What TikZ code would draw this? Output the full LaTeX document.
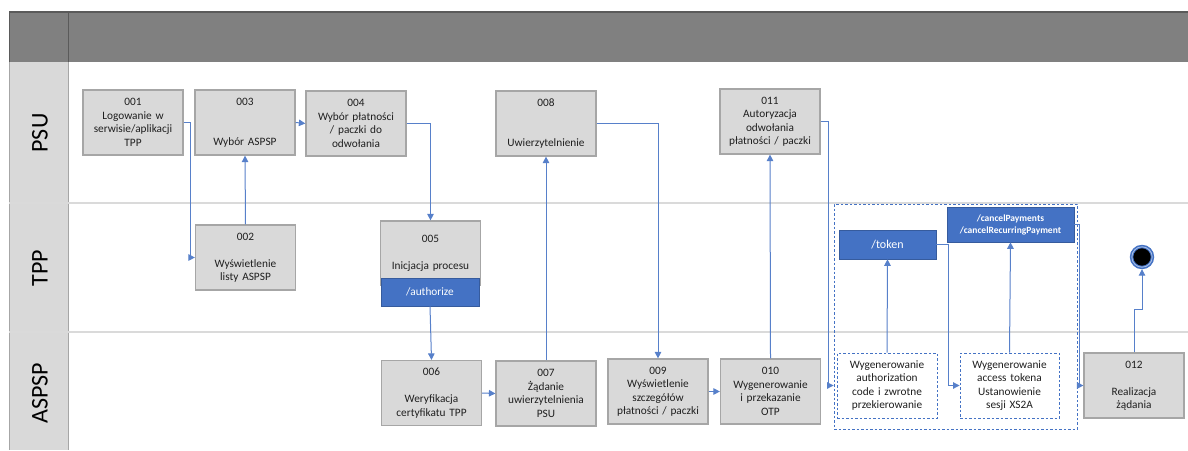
\documentclass[tikz,border=0pt]{standalone}
\usepackage{fontspec}
\setmainfont{Carlito}
\usetikzlibrary{arrows.meta}
\definecolor{boxfill}{HTML}{D9D9D9}
\definecolor{boxline}{HTML}{A6A6A6}
\definecolor{flow}{HTML}{4472C4}
\definecolor{hdr}{HTML}{808080}
\definecolor{hdrline}{HTML}{5A5A5A}
\definecolor{lane}{HTML}{DADADA}
\definecolor{txt}{HTML}{1F1F1F}
\begin{document}
\begin{tikzpicture}[x=1pt,y=-1pt,
  stepbox/.style={draw=boxline, line width=1.2pt, fill=boxfill,
    minimum width=100pt, minimum height=65pt, inner sep=0pt,
    align=center, text width=98pt, text=txt,
    font=\fontsize{11.3}{13.5}\selectfont},
  dashbox/.style={draw=flow, dashed, dash pattern=on 2.5pt off 2pt,
    line width=0.9pt, fill=white, minimum width=100pt, minimum height=65pt,
    inner sep=0pt, align=center, text width=98pt, text=txt,
    font=\fontsize{11.3}{13.5}\selectfont},
  apibox/.style={draw=flow!80!black, line width=0.6pt, fill=flow, text=white,
    inner sep=0pt, align=center},
  groupbox/.style={draw=flow, dashed, dash pattern=on 2.5pt off 2pt,
    line width=0.9pt, inner sep=0pt},
  lanelabel/.style={rotate=90, font=\fontsize{24}{28}\selectfont, text=black},
  flowline/.style={draw=flow!90!white, line width=1pt,
    -{Triangle[length=6.5pt,width=6.5pt]}}]

\useasboundingbox (0,0) rectangle (1188,450);

% header band
\fill[hdr] (9,12) rectangle (1188,62);
\draw[hdrline, line width=1.5pt] (9,12) -- (1188,12);
\draw[hdrline, line width=1pt] (68,12) -- (68,62);
\draw[hdrline, line width=0.8pt] (9,12) -- (9,62);

% lane label column
\fill[boxfill] (9,62) rectangle (68,450);
\draw[boxline, line width=1pt] (9,62) -- (9,450);
\draw[boxline, line width=1pt] (68,62) -- (68,450);

% lane separators
\draw[lane, line width=1.5pt] (9,203) -- (1188,203);
\draw[lane, line width=1.5pt] (9,332) -- (1188,332);

\node[lanelabel] (psu) at (40,133) {PSU};
\node[lanelabel] (tpp) at (40,268) {TPP};
\node[lanelabel] (aspsp) at (40,393) {ASPSP};

% PSU lane
\node[stepbox] (n001) at (133,122.5) {001\\Logowanie w\\serwisie/aplikacji\\TPP};
\node[stepbox] (n003) at (245,122.5) {003\\~\\~\\Wybór ASPSP};
\node[stepbox] (n004) at (356,123.5) {004\\Wybór płatności\\/ paczki do\\odwołania};
\node[stepbox] (n008) at (546,123.5) {008\\~\\~\\Uwierzytelnienie};
\node[stepbox] (n011) at (770,121.5) {011\\Autoryzacja\\odwołania\\płatności / paczki};

% TPP lane
\node[stepbox] (n002) at (245.5,257.5) {002\\~\\Wyświetlenie\\listy ASPSP};
\node[stepbox, minimum height=64pt] (n005) at (430.5,253) {005\\~\\Inicjacja procesu};
\node[apibox, minimum width=98pt, minimum height=28pt,
  font=\fontsize{11.3}{13}\selectfont] (auth) at (430,292) {/authorize};

% ASPSP lane
\node[stepbox] (n006) at (431.5,393) {006\\~\\Weryfikacja\\certyfikatu TPP};
\node[stepbox] (n007) at (546,393.5) {007\\Żądanie\\uwierzytelnienia\\PSU};
\node[stepbox] (n009) at (658,391.5) {009\\Wyświetlenie\\szczegółów\\płatności / paczki};
\node[stepbox] (n010) at (770.5,391.5) {010\\Wygenerowanie\\i przekazanie\\OTP};

% token exchange group
\node[groupbox, minimum width=243pt, minimum height=225pt] (grp) at (955.5,316.5) {};
\node[apibox, minimum width=97pt, minimum height=29pt,
  font=\fontsize{12}{14}\selectfont] (token) at (887.5,244.5) {/token};
\node[apibox, minimum width=127pt, minimum height=35pt,
  font=\fontsize{9.5}{12}\selectfont\bfseries] (cancel) at (1010.5,224.5)
  {/cancelPayments\\/cancelRecurringPayment};
\node[dashbox] (wa) at (887,385.5) {Wygenerowanie\\authorization\\code i zwrotne\\przekierowanie};
\node[dashbox, minimum width=99pt] (wb) at (1009.5,385.5) {Wygenerowanie\\access tokena\\Ustanowienie\\sesji XS2A};

\node[stepbox] (n012) at (1134,385.5) {012\\~\\Realizacja\\żądania};

% end state
\node[circle, fill=black, draw=flow, line width=3.4pt, minimum size=21pt,
  inner sep=0pt] (endc) at (1142,257) {};
\draw[flow!45, line width=0.8pt] (endc.center) circle (10.2);

% connectors
\draw[flowline] (n001.east) -- ++(7,0) |- (n002.west);
\draw[flowline] (n002.north) -- (n003.south);
\draw[flowline] (n003.east) -- (n004.west);
\draw[flowline] (n004.east) -| (n005.north);
\draw[flowline] (auth.south) -- (n006.north);
\draw[flowline] (n006.east) -- (n007.west);
\draw[flowline] (n007.north) -- (n008.south);
\draw[flowline] (n008.east) -| (n009.north);
\draw[flowline] (n009.east) -- (n010.west);
\draw[flowline] (n010.north) -- (n011.south);
\draw[flowline] (n011.east) -- ++(8,0) |- (grp.west |- wa.west);
\draw[flowline] (wa.north) -- (token.south);
\draw[flowline] (token.east) -- ++(12,0) |- (wb.west);
\draw[flowline] (wb.north) -- (cancel.south);
\draw[flowline] (cancel.east) -- ++(5,0) |- (n012.west);
\draw[flowline] (n012.north) -- ++(0,-43) -| (endc.south);

\end{tikzpicture}
\end{document}
